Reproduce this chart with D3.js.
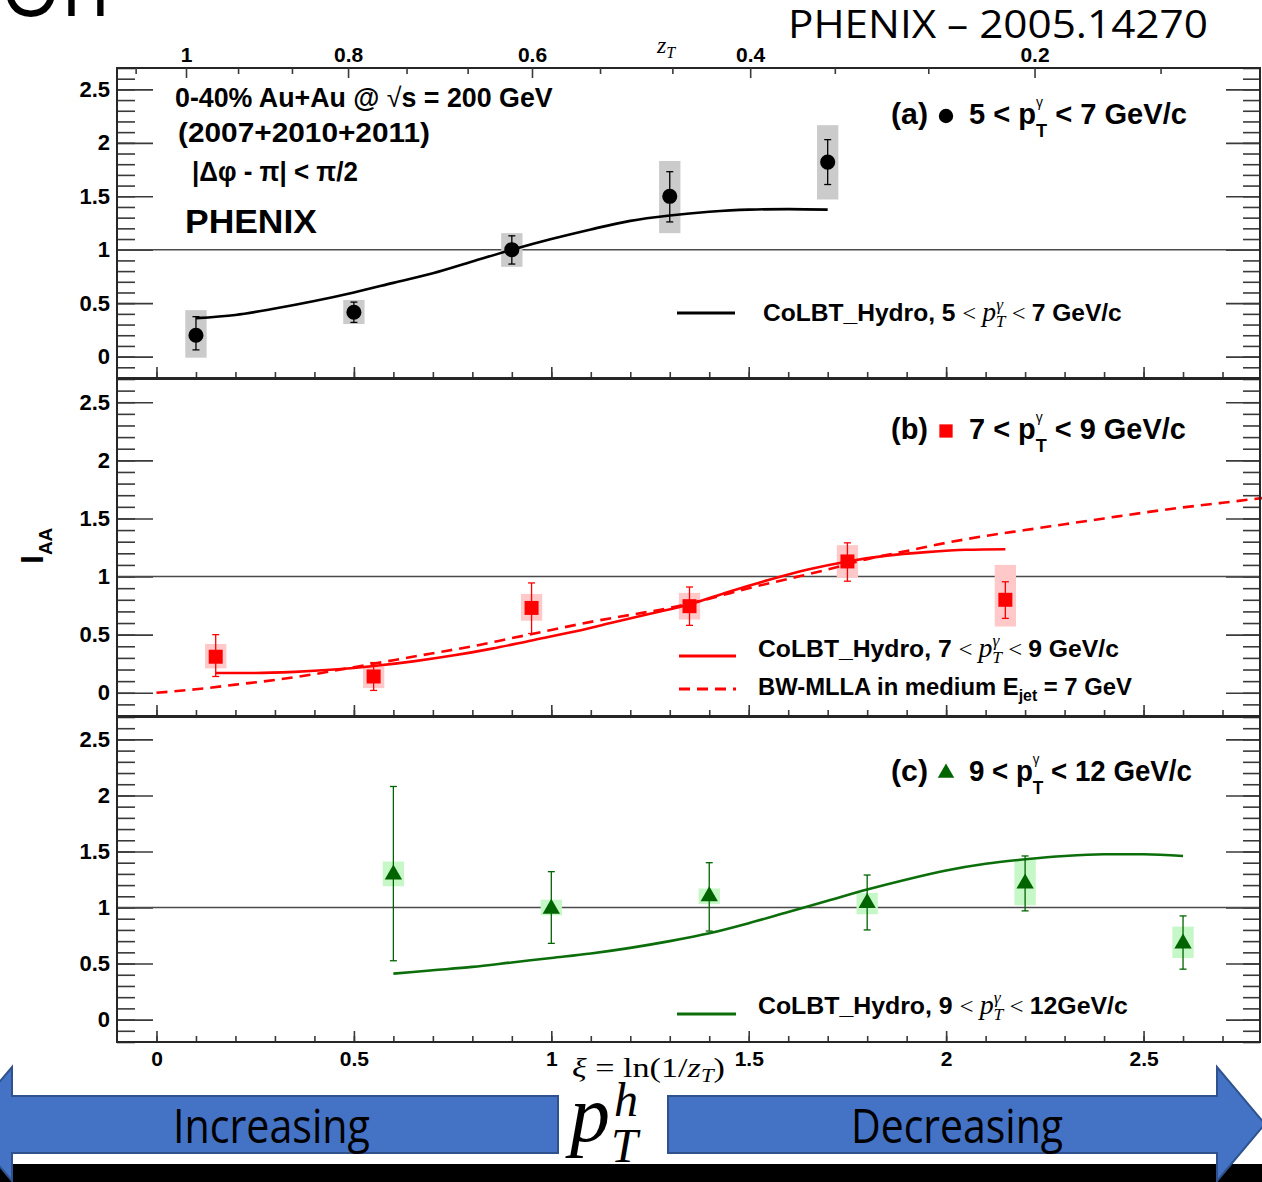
<!DOCTYPE html>
<html>
<head>
<meta charset="utf-8">
<script src="https://cdn.jsdelivr.net/npm/d3@7"></script>
<style>
  body { margin: 0; background: #fff; }
  svg { display: block; }
</style>
</head>
<body>
<svg id="chart" width="1262" height="1182"></svg>
<script>
// ---- data (x = xi = ln(1/zT)) ----
// (a) 5 < pT < 7
const xiA     = [0.1, 0.5, 0.9, 1.3, 1.7];
const iaaA    = [0.20, 0.415, 1.0, 1.50, 1.82];
const statLoA = [0.063, 0.32, 0.866, 1.26, 1.61];
const statHiA = [0.374, 0.51, 1.13, 1.73, 2.03];
const sysLoA  = [-0.01, 0.305, 0.84, 1.155, 1.47];
const sysHiA  = [0.435, 0.53, 1.155, 1.83, 2.165];
const theoXiA = [0.1, 0.2, 0.3, 0.4, 0.5, 0.6, 0.7, 0.8, 0.9, 1.0, 1.1, 1.2, 1.3, 1.4, 1.5, 1.6, 1.7];
const theoA   = [0.36, 0.39, 0.45, 0.52, 0.60, 0.69, 0.78, 0.89, 1.0, 1.10, 1.19, 1.27, 1.32, 1.355, 1.375, 1.38, 1.375];

// (b) 7 < pT < 9
const xiB     = [0.15, 0.55, 0.95, 1.35, 1.75, 2.15];
const iaaB    = [0.31, 0.14, 0.73, 0.745, 1.13, 0.80];
const statLoB = [0.14, 0.02, 0.51, 0.58, 0.96, 0.64];
const statHiB = [0.50, 0.26, 0.945, 0.91, 1.29, 0.955];
const sysLoB  = [0.21, 0.04, 0.62, 0.63, 0.99, 0.57];
const sysHiB  = [0.42, 0.225, 0.85, 0.86, 1.27, 1.10];
const theoXiB = [0.15, 0.25, 0.35, 0.45, 0.55, 0.65, 0.75, 0.85, 0.95, 1.05, 1.15, 1.25, 1.35, 1.45, 1.55, 1.65, 1.75, 1.85, 1.95, 2.05, 2.15];
const theoB   = [0.17, 0.17, 0.18, 0.20, 0.23, 0.27, 0.32, 0.38, 0.45, 0.52, 0.60, 0.68, 0.76, 0.87, 0.97, 1.06, 1.13, 1.18, 1.21, 1.23, 1.235];
const mllaXi  = [0, 0.1, 0.2, 0.3, 0.4, 0.5, 0.6, 0.7, 0.8, 0.9, 1.0, 1.1, 1.2, 1.3, 1.4, 1.5, 1.6, 1.7, 1.8, 1.9, 2.0, 2.1, 2.2, 2.3, 2.4, 2.5, 2.6, 2.7, 2.8];
const mllaB   = [0.0, 0.03, 0.07, 0.11, 0.16, 0.22, 0.28, 0.34, 0.40, 0.47, 0.54, 0.61, 0.67, 0.73, 0.81, 0.90, 0.98, 1.06, 1.15, 1.22, 1.29, 1.35, 1.40, 1.45, 1.50, 1.55, 1.595, 1.635, 1.675];

// (c) 9 < pT < 12
const xiC     = [0.6, 1.0, 1.4, 1.8, 2.2, 2.6];
const iaaC    = [1.295, 0.99, 1.10, 1.04, 1.215, 0.68];
const statLoC = [0.525, 0.68, 0.79, 0.80, 0.97, 0.45];
const statHiC = [2.08, 1.32, 1.40, 1.29, 1.46, 0.925];
const sysLoC  = [1.19, 0.93, 1.03, 0.94, 1.02, 0.55];
const sysHiC  = [1.41, 1.07, 1.17, 1.13, 1.43, 0.83];
const theoXiC = [0.6, 0.7, 0.8, 0.9, 1.0, 1.1, 1.2, 1.3, 1.4, 1.5, 1.6, 1.7, 1.8, 1.9, 2.0, 2.1, 2.2, 2.3, 2.4, 2.5, 2.6];
const theoC   = [0.41, 0.44, 0.47, 0.51, 0.55, 0.59, 0.64, 0.70, 0.77, 0.86, 0.96, 1.06, 1.16, 1.25, 1.33, 1.39, 1.43, 1.46, 1.475, 1.475, 1.46];

// tick labels
const yTickVals = [0, 0.5, 1, 1.5, 2, 2.5];
const xTickVals = [0, 0.5, 1, 1.5, 2, 2.5];
const zMajor = [1, 0.8, 0.6, 0.4, 0.2];
const zMinor = [1.0667, 0.9333, 0.8667, 0.7333, 0.6667, 0.5333, 0.4667, 0.3333, 0.2667, 0.1333];

// ---- setup ----
const svg = d3.select("#chart");
const sans = "'Liberation Sans', Arial, sans-serif";
const serif = "'Liberation Serif', 'Times New Roman', serif";
const calibri = "'Open Sans', 'Noto Sans', sans-serif";
const frameCol = "#262626";

const x = d3.scaleLinear().domain([-0.1, 2.8]).range([117, 1262]);
// top axis zT (non-linear, as printed)
const zScale = d3.scalePow().exponent(0.5).domain([1, 0]).range([186, 1721]);
const boxHalf = 0.027; // half width of systematic boxes in xi

const panels = [
  { top: 68,  bottom: 378,  xi: xiA, v: iaaA, sLo: statLoA, sHi: statHiA, yLo: sysLoA, yHi: sysHiA,
    col: "#000", box: "#cbcbcb", sym: d3.symbolCircle, size: 180,
    lines: [{ xi: theoXiA, v: theoA, col: "#000", dash: null }] },
  { top: 379, bottom: 716,  xi: xiB, v: iaaB, sLo: statLoB, sHi: statHiB, yLo: sysLoB, yHi: sysHiB,
    col: "#ff0000", box: "#ffc9c9", sym: d3.symbolSquare, size: 196,
    lines: [{ xi: theoXiB, v: theoB, col: "#ff0000", dash: null },
            { xi: mllaXi, v: mllaB, col: "#ff0000", dash: "11,7" }] },
  { top: 717, bottom: 1042, xi: xiC, v: iaaC, sLo: statLoC, sHi: statHiC, yLo: sysLoC, yHi: sysHiC,
    col: "#006400", box: "#c6f7c6", sym: d3.symbolTriangle, size: 130,
    lines: [{ xi: theoXiC, v: theoC, col: "#0b6e0b", dash: null }] }
];

panels.forEach(p => {
  const y = d3.scaleLinear().domain([-0.2, 2.7]).range([p.bottom, p.top]);
  p.y = y;
  const g = svg.append("g");

  // y ticks left (inward) and right (inward)
  const minorY = y.ticks(29);
  g.append("g").attr("transform", `translate(${x.range()[0]},0)`)
    .call(d3.axisRight(y).tickValues(minorY).tickSize(18).tickFormat(""))
    .call(a => a.select(".domain").remove());
  g.append("g").attr("transform", `translate(${x.range()[0]},0)`)
    .call(d3.axisRight(y).tickValues(yTickVals).tickSize(36).tickFormat(""))
    .call(a => a.select(".domain").remove());
  g.append("g").attr("transform", `translate(1260,0)`)
    .call(d3.axisLeft(y).tickValues(minorY).tickSize(17).tickFormat(""))
    .call(a => a.select(".domain").remove());
  g.append("g").attr("transform", `translate(1260,0)`)
    .call(d3.axisLeft(y).tickValues(yTickVals).tickSize(34).tickFormat(""))
    .call(a => a.select(".domain").remove());

  // y tick labels
  g.append("g").attr("transform", `translate(${x.range()[0]},0)`)
    .call(d3.axisLeft(y).tickValues(yTickVals).tickSize(0).tickPadding(7).tickFormat(d3.format("")))
    .call(a => a.select(".domain").remove())
    .call(a => a.selectAll("text").style("font", `bold 22px ${sans}`).attr("fill", "#000"));

  // x ticks on the bottom edge (inward)
  g.append("g").attr("transform", `translate(0,${p.bottom})`)
    .call(d3.axisTop(x).tickValues(x.ticks(29).filter(d => d > -0.1 && d < 2.8)).tickSize(6).tickFormat(""))
    .call(a => a.select(".domain").remove());
  g.append("g").attr("transform", `translate(0,${p.bottom})`)
    .call(d3.axisTop(x).tickValues(xTickVals).tickSize(11).tickFormat(""))
    .call(a => a.select(".domain").remove());

  g.selectAll(".tick line").attr("stroke", "#3a3a3a").attr("stroke-width", 1.6);

  // reference line at 1
  g.append("line")
    .attr("x1", x.range()[0]).attr("x2", 1260)
    .attr("y1", y(1)).attr("y2", y(1))
    .attr("stroke", "#4a4a4a").attr("stroke-width", 1.6);

  const rows = p.xi.map((xi, i) => ({ xi, v: p.v[i], sLo: p.sLo[i], sHi: p.sHi[i], yLo: p.yLo[i], yHi: p.yHi[i] }));

  // systematic boxes
  g.selectAll(".sys").data(rows).join("rect")
    .attr("x", d => x(d.xi - boxHalf))
    .attr("width", d => x(d.xi + boxHalf) - x(d.xi - boxHalf))
    .attr("y", d => y(d.yHi))
    .attr("height", d => y(d.yLo) - y(d.yHi))
    .attr("fill", p.box);

  // theory curves
  p.lines.forEach(l => {
    const line = d3.line().x(d => x(d)).y((d, i) => y(l.v[i])).curve(d3.curveMonotoneX);
    g.append("path").attr("d", line(l.xi))
      .attr("fill", "none").attr("stroke", l.col).attr("stroke-width", 2.6)
      .attr("stroke-dasharray", l.dash);
  });

  // stat error bars
  g.selectAll(".err").data(rows).join("line")
    .attr("x1", d => x(d.xi)).attr("x2", d => x(d.xi))
    .attr("y1", d => y(d.sLo)).attr("y2", d => y(d.sHi))
    .attr("stroke", p.col).attr("stroke-width", 1.3);
  ["sLo", "sHi"].forEach(k => {
    g.selectAll(".cap" + k).data(rows).join("line")
      .attr("x1", d => x(d.xi) - 3.5).attr("x2", d => x(d.xi) + 3.5)
      .attr("y1", d => y(d[k])).attr("y2", d => y(d[k]))
      .attr("stroke", p.col).attr("stroke-width", 1.3);
  });

  // markers
  g.selectAll(".mk").data(rows).join("path")
    .attr("transform", d => `translate(${x(d.xi)},${y(d.v)})`)
    .attr("d", d3.symbol().type(p.sym).size(p.size))
    .attr("fill", p.col);

  // frame
  g.append("rect")
    .attr("x", x.range()[0]).attr("y", p.top)
    .attr("width", 1260 - x.range()[0]).attr("height", p.bottom - p.top)
    .attr("fill", "none").attr("stroke", frameCol).attr("stroke-width", 2);
});

// top zT axis
const zAxis = svg.append("g").attr("transform", "translate(0,68)");
zAxis.append("g")
  .call(d3.axisTop(zScale).tickValues(zMinor).tickSizeInner(-6).tickSizeOuter(0).tickFormat(""))
  .call(a => a.select(".domain").remove());
zAxis.append("g")
  .call(d3.axisTop(zScale).tickValues(zMajor).tickSizeInner(-10).tickSizeOuter(0).tickPadding(6).tickFormat(d3.format("")))
  .call(a => a.select(".domain").remove())
  .call(a => a.selectAll("text").style("font", `bold 21px ${sans}`).attr("fill", "#000"));
zAxis.selectAll(".tick line").attr("stroke", "#3a3a3a").attr("stroke-width", 1.6);

// bottom xi labels
svg.append("g").attr("transform", `translate(0,1042)`)
  .call(d3.axisBottom(x).tickValues(xTickVals).tickSize(0).tickPadding(9).tickFormat(d3.format("")))
  .call(a => a.select(".domain").remove())
  .call(a => a.selectAll("text").style("font", `bold 21px ${sans}`).attr("fill", "#000"));

// ---- text helpers ----
function rich(t, parts) {
  parts.forEach(q => {
    const s = t.append("tspan").text(q.t);
    if (q.f) s.attr("font-family", q.f);
    if (q.s) s.attr("font-size", q.s);
    if (q.w) s.attr("font-weight", q.w);
    if (q.i) s.attr("font-style", "italic");
    if (q.dx) s.attr("dx", q.dx);
    if (q.dy) s.attr("dy", q.dy);
  });
}
function fitText(x0, y0, width, base, parts) {
  const g = svg.append("g");
  const t = g.append("text").style("white-space", "pre")
    .attr("font-family", base.f).attr("font-size", base.s)
    .attr("font-weight", base.w || "normal").attr("fill", base.c || "#000");
  rich(t, typeof parts === "string" ? [{ t: parts }] : parts);
  const bb = t.node().getBBox();
  const k = width / bb.width;
  g.attr("transform", `translate(${x0 - bb.x * k},${y0}) scale(${k},1)`);
  return g;
}

// header texts
fitText(0, 16, 110, { f: calibri, s: 92 }, "On");
fitText(788, 38, 420, { f: calibri, s: 39 }, "PHENIX – 2005.14270");
svg.append("text").attr("x", 657).attr("y", 53).attr("font-family", serif).attr("font-style", "italic")
  .attr("font-size", 24).call(t => rich(t, [{ t: "z" }, { t: "T", s: 16, dy: 5 }]));

// panel (a) description
const bold = { f: sans, s: 27, w: "bold" };
fitText(175, 107, 378, bold, [{ t: "0-40% Au+Au @ " }, { t: "√", w: "normal" }, { t: "s = 200 GeV" }]);
fitText(178, 142, 252, bold, "(2007+2010+2011)");
fitText(192, 181, 166, bold, "|Δφ - π| < π/2");
fitText(185, 233, 132, { f: sans, s: 33, w: "bold" }, "PHENIX");

// panel titles
const titles = [
  { lab: "(a)", y: 124, lo: "5", hi: "7 GeV/c", w: 218 },
  { lab: "(b)", y: 439, lo: "7", hi: "9 GeV/c", w: 217 },
  { lab: "(c)", y: 781, lo: "9", hi: "12 GeV/c", w: 223 }
];
titles.forEach((d, i) => {
  fitText(891, d.y, 37, { f: sans, s: 29, w: "bold" }, d.lab);
  fitText(969, d.y, d.w, { f: sans, s: 29, w: "bold" },
    [{ t: d.lo + " < p" }, { t: "γ", s: 14, w: "normal", dy: -17 }, { t: "T", s: 18, dx: -7, dy: 30 }, { t: " < " + d.hi, dy: -13 }]);
  const p = panels[i];
  svg.append("path")
    .attr("transform", `translate(946,${d.y - 8})`)
    .attr("d", d3.symbol().type(p.sym).size(p.size * 0.9))
    .attr("fill", p.col);
});

// legends for theory curves
function pgam(n1, n2) {
  return [{ t: "CoLBT_Hydro, " + n1 + " " }, { t: "< ", f: serif, w: "normal" },
          { t: "p", f: serif, i: 1, w: "normal", s: 27 },
          { t: "γ", f: serif, i: 1, w: "normal", s: 17, dy: -11 },
          { t: "T", f: serif, i: 1, w: "normal", s: 17, dx: -7, dy: 17 },
          { t: " < ", f: serif, w: "normal", dy: -6 }, { t: n2 }];
}
const legs = [
  { x1: 677, x2: 735, y: 313, col: "#000", dash: null, tx: 763, ty: 321, w: 359, parts: pgam("5", "7 GeV/c") },
  { x1: 679, x2: 736, y: 656, col: "#ff0000", dash: null, tx: 758, ty: 657, w: 361, parts: pgam("7", "9 GeV/c") },
  { x1: 679, x2: 736, y: 689, col: "#ff0000", dash: "11,7", tx: 758, ty: 695, w: 374,
    parts: [{ t: "BW-MLLA in medium E" }, { t: "jet", s: 16, dy: 6 }, { t: " = 7 GeV", dy: -6 }] },
  { x1: 677, x2: 736, y: 1014, col: "#0b6e0b", dash: null, tx: 758, ty: 1014, w: 370, parts: pgam("9", "12GeV/c") }
];
legs.forEach(l => {
  svg.append("line").attr("x1", l.x1).attr("x2", l.x2).attr("y1", l.y).attr("y2", l.y)
    .attr("stroke", l.col).attr("stroke-width", 3.2).attr("stroke-dasharray", l.dash);
  fitText(l.tx, l.ty, l.w, { f: sans, s: 24, w: "bold" }, l.parts);
});

// y axis title
svg.append("text")
  .attr("transform", "translate(43,564) rotate(-90)")
  .attr("font-family", sans).attr("font-weight", "bold").attr("font-size", 32)
  .call(t => rich(t, [{ t: "I" }, { t: "AA", s: 19, dy: 9 }]));

// ---- bottom decoration: arrows and labels ----
svg.append("rect").attr("x", 0).attr("y", 1164).attr("width", 1262).attr("height", 18).attr("fill", "#000");
const arrowFill = "#4472c4", arrowLine = "#2f528f";
svg.append("path")
  .attr("d", "M558,1096 L12,1096 L12,1067 L-36,1124 L12,1181 L12,1153 L558,1153 Z")
  .attr("fill", arrowFill).attr("stroke", arrowLine).attr("stroke-width", 2);
svg.append("path")
  .attr("d", "M668,1096 L1217,1096 L1217,1067 L1265,1124 L1217,1181 L1217,1153 L668,1153 Z")
  .attr("fill", arrowFill).attr("stroke", arrowLine).attr("stroke-width", 2);

fitText(173, 1143, 197, { f: calibri, s: 48 }, "Increasing");
fitText(851, 1143, 212, { f: calibri, s: 48 }, "Decreasing");

fitText(572, 1077, 153, { f: serif, s: 27 },
  [{ t: "ξ", i: 1 }, { t: " = ln(1/" }, { t: "z", i: 1 }, { t: "T", i: 1, s: 18, dy: 5 }, { t: ")", dy: -5 }]);

const pth = svg.append("g").attr("font-family", serif).attr("font-style", "italic");
pth.append("text").attr("x", 570).attr("y", 1141).attr("font-size", 80).text("p");
pth.append("text").attr("x", 614).attr("y", 1116).attr("font-size", 48).text("h");
pth.append("text").attr("x", 611).attr("y", 1162).attr("font-size", 48).text("T");
</script>
</body>
</html>
